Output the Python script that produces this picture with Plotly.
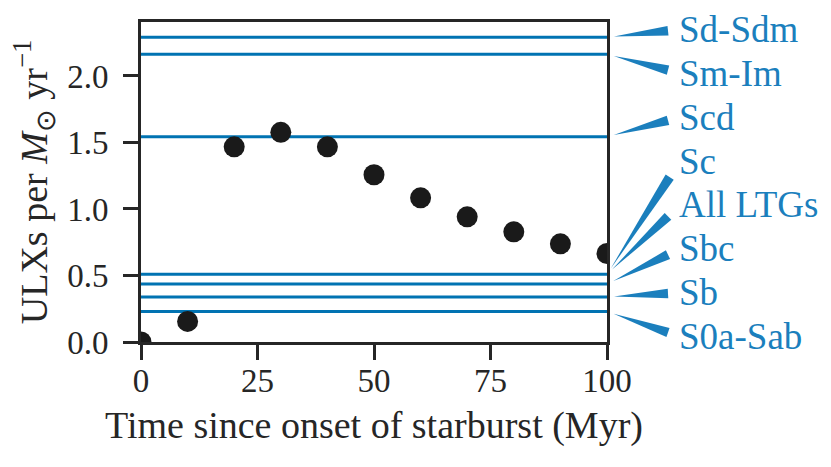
import plotly.graph_objects as go
import math

# ---- data ----
time_myr = [0, 10, 20, 30, 40, 50, 60, 70, 80, 90, 100]
ulx_rate = [0.0, 0.155, 1.467, 1.576, 1.467, 1.257, 1.084, 0.941, 0.828, 0.738, 0.665]

galaxy_types = ["Sd-Sdm", "Sm-Im", "Scd", "Sc", "All LTGs", "Sbc", "Sb", "S0a-Sab"]
galaxy_rates = [2.291, 2.163, 1.543, 0.509, 0.509, 0.436, 0.339, 0.229]
label_y = [2.35, 2.02, 1.69, 1.36, 1.03, 0.70, 0.37, 0.04]

x_ticks = [0, 25, 50, 75, 100]
y_ticks = [0.0, 0.5, 1.0, 1.5, 2.0]

# ---- layout constants ----
W, H = 831, 467
L, R, T, B = 141, 224, 22, 125
PW, PH = W - L - R, H - T - B
YMAX = max(galaxy_rates) * 1.05
FONT = "Liberation Serif"
DARK = "#262626"
LINE_BLUE = "#0173b2"
TEXT_BLUE = "#1b7fbd"
FS_TICK = 33
FS_TITLE = 38
FS_LABEL = 37


def ypx(v):
    return T + PH * (1 - v / YMAX)


def to_paper(px, py):
    return (px - L) / PW, (T + PH - py) / PH


fig = go.Figure()

for v in sorted(set(galaxy_rates)):
    fig.add_hline(y=v, line=dict(color=LINE_BLUE, width=3), layer="below")

fig.add_trace(go.Scatter(
    x=time_myr, y=ulx_rate, mode="markers",
    marker=dict(color="#1a1a1a", size=21, line=dict(width=0)),
    cliponaxis=True, showlegend=False, hoverinfo="skip",
))

# labels + wedge arrows
text_x_px = L + PW + 70
for name, rate, ly in zip(galaxy_types, galaxy_rates, label_y):
    ty = ypx(ly)
    ox, oy = text_x_px + 3, ty
    ax, ay = L + PW, ypx(rate)
    dx, dy = ax - ox, ay - oy
    box_left, half_h = text_x_px - 9, 16
    t_left = (box_left - ox) / dx if dx != 0 else 1e9
    t_vert = (half_h / abs(dy)) if dy != 0 else 1e9
    t = min(t_left, t_vert)
    bx, by = ox + dx * t, oy + dy * t
    ddx, ddy = bx - ax, by - ay
    n = math.hypot(ddx, ddy)
    ux, uy = ddx / n, ddy / n
    apx, apy = ax + ux * 7, ay + uy * 7
    px_, py_ = -uy, ux
    hw = 4.8
    p1 = to_paper(apx, apy)
    p2 = to_paper(bx + px_ * hw, by + py_ * hw)
    p3 = to_paper(bx - px_ * hw, by - py_ * hw)
    path = f"M {p1[0]},{p1[1]} L {p2[0]},{p2[1]} L {p3[0]},{p3[1]} Z"
    fig.add_shape(type="path", path=path, xref="paper", yref="paper",
                  fillcolor=TEXT_BLUE, line=dict(width=0), layer="above")
    tx, tyy = to_paper(text_x_px, ty)
    fig.add_annotation(x=tx, y=tyy, xref="paper", yref="paper", text=name,
                       showarrow=False, xanchor="left", yanchor="middle",
                       font=dict(family=FONT, size=FS_LABEL, color=TEXT_BLUE))

axis_common = dict(
    showline=True, linecolor=DARK, linewidth=3, mirror=True,
    ticks="outside", ticklen=15, tickwidth=3, tickcolor=DARK,
    showgrid=False, zeroline=False,
    tickfont=dict(family=FONT, size=FS_TICK, color=DARK),
)

fig.update_xaxes(range=[0, 100], tickvals=x_ticks, ticktext=[str(v) for v in x_ticks],
                 title=dict(text="Time since onset of starburst (Myr)",
                            font=dict(family=FONT, size=FS_TITLE, color=DARK), standoff=14),
                 ticklabelstandoff=-8, **axis_common)
fig.update_yaxes(range=[0, YMAX], tickvals=y_ticks, ticktext=[f"{v:.1f}" for v in y_ticks],
                 title=dict(text="ULXs per <i>M</i><sub>⊙</sub> yr<sup>−1</sup>",
                            font=dict(family=FONT, size=FS_TITLE, color=DARK), standoff=8),
                 ticklabelstandoff=8, **axis_common)

fig.update_layout(
    width=W, height=H,
    margin=dict(l=L, r=R, t=T, b=B),
    plot_bgcolor="white", paper_bgcolor="white",
    showlegend=False,
)

fig.write_html("out.html", config={"displayModeBar": False},
               post_script="document.body.style.margin='0';")
